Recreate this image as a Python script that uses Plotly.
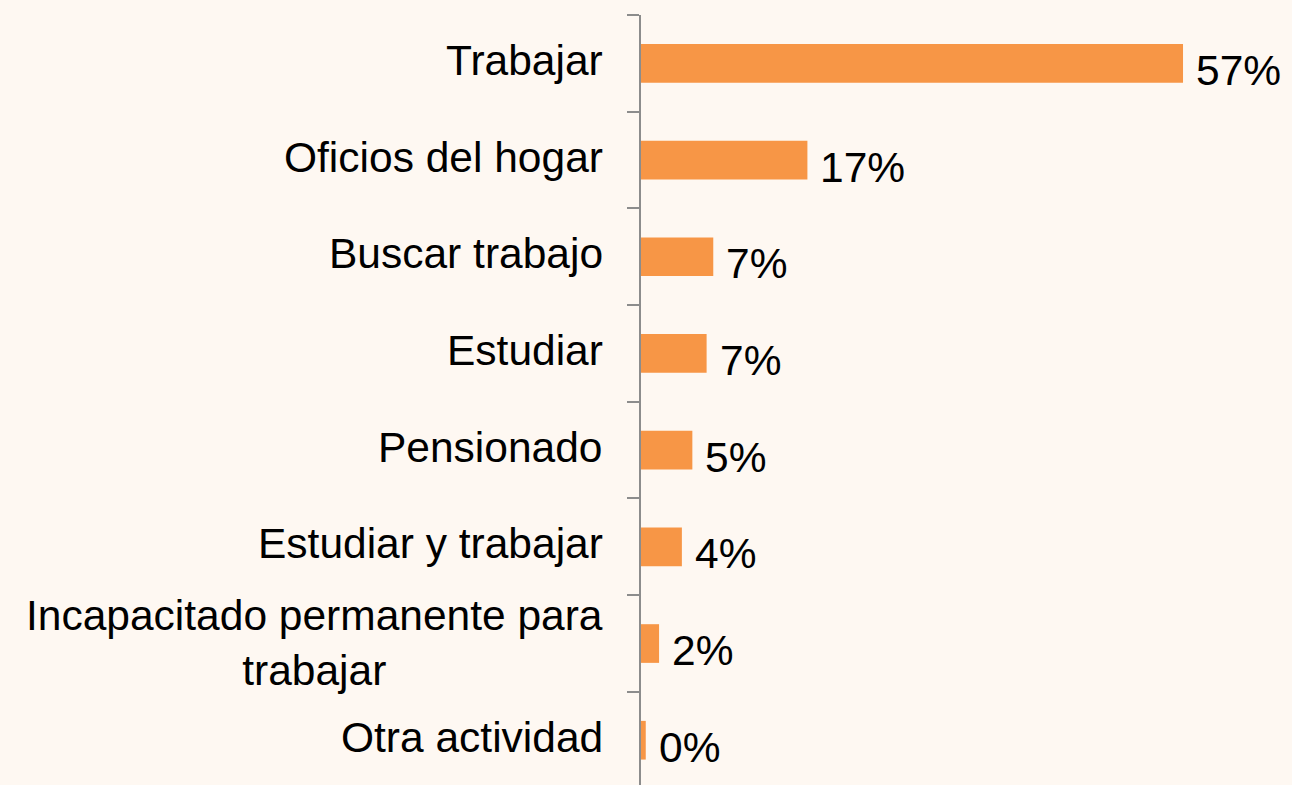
import plotly.graph_objects as go

categories = ["Trabajar", "Oficios del hogar", "Buscar trabajo", "Estudiar",
              "Pensionado", "Estudiar y trabajar",
              "Incapacitado permanente para<br>trabajar", "Otra actividad"]
values = [57.0, 17.5, 7.6, 6.9, 5.4, 4.3, 1.9, 0.5]
value_labels = ["57%", "17%", "7%", "7%", "5%", "4%", "2%", "0%"]

BG = "#FEF8F2"
BAR = "#F79646"
AXIS = "#8C8C8C"
FONT = "Liberation Sans, Arial, sans-serif"
FS = 42.5

fig = go.Figure()
fig.add_trace(go.Bar(
    y=categories, x=values, orientation="h",
    marker=dict(color=BAR, line=dict(width=0)),
    width=0.4, hoverinfo="skip",
))

annotations = []
for c in categories:
    annotations.append(dict(
        x=0, xref="paper", y=c, yref="y", text=c, showarrow=False,
        xanchor="right", yanchor="middle", align="center",
        xshift=-36, yshift=3 if "<br>" not in c else 1,
        font=dict(family=FONT, size=FS, color="black"),
    ))
for c, v, t in zip(categories, values, value_labels):
    annotations.append(dict(
        x=v, xref="x", y=c, yref="y", text=t, showarrow=False,
        xanchor="left", yanchor="middle",
        xshift=11, yshift=-7,
        font=dict(family=FONT, size=FS, color="black"),
    ))

fig.update_layout(
    width=1292, height=785,
    margin=dict(l=641, r=0, t=15, b=0),
    paper_bgcolor=BG, plot_bgcolor=BG,
    showlegend=False,
    annotations=annotations,
    xaxis=dict(range=[0, 68.46], visible=False, showgrid=False, zeroline=False),
    yaxis=dict(
        type="category", categoryorder="array", categoryarray=categories,
        range=[7.463, -0.5],
        showline=True, linecolor=AXIS, linewidth=2,
        ticks="outside", tickson="boundaries", ticklen=12, tickwidth=2, tickcolor=AXIS,
        showticklabels=False, showgrid=False, zeroline=False,
    ),
    font=dict(family=FONT, size=FS, color="black"),
)

fig.write_html("out.html",
               config={"displayModeBar": False},
               post_script="document.body.style.margin='0';document.body.style.background='" + BG + "';")
